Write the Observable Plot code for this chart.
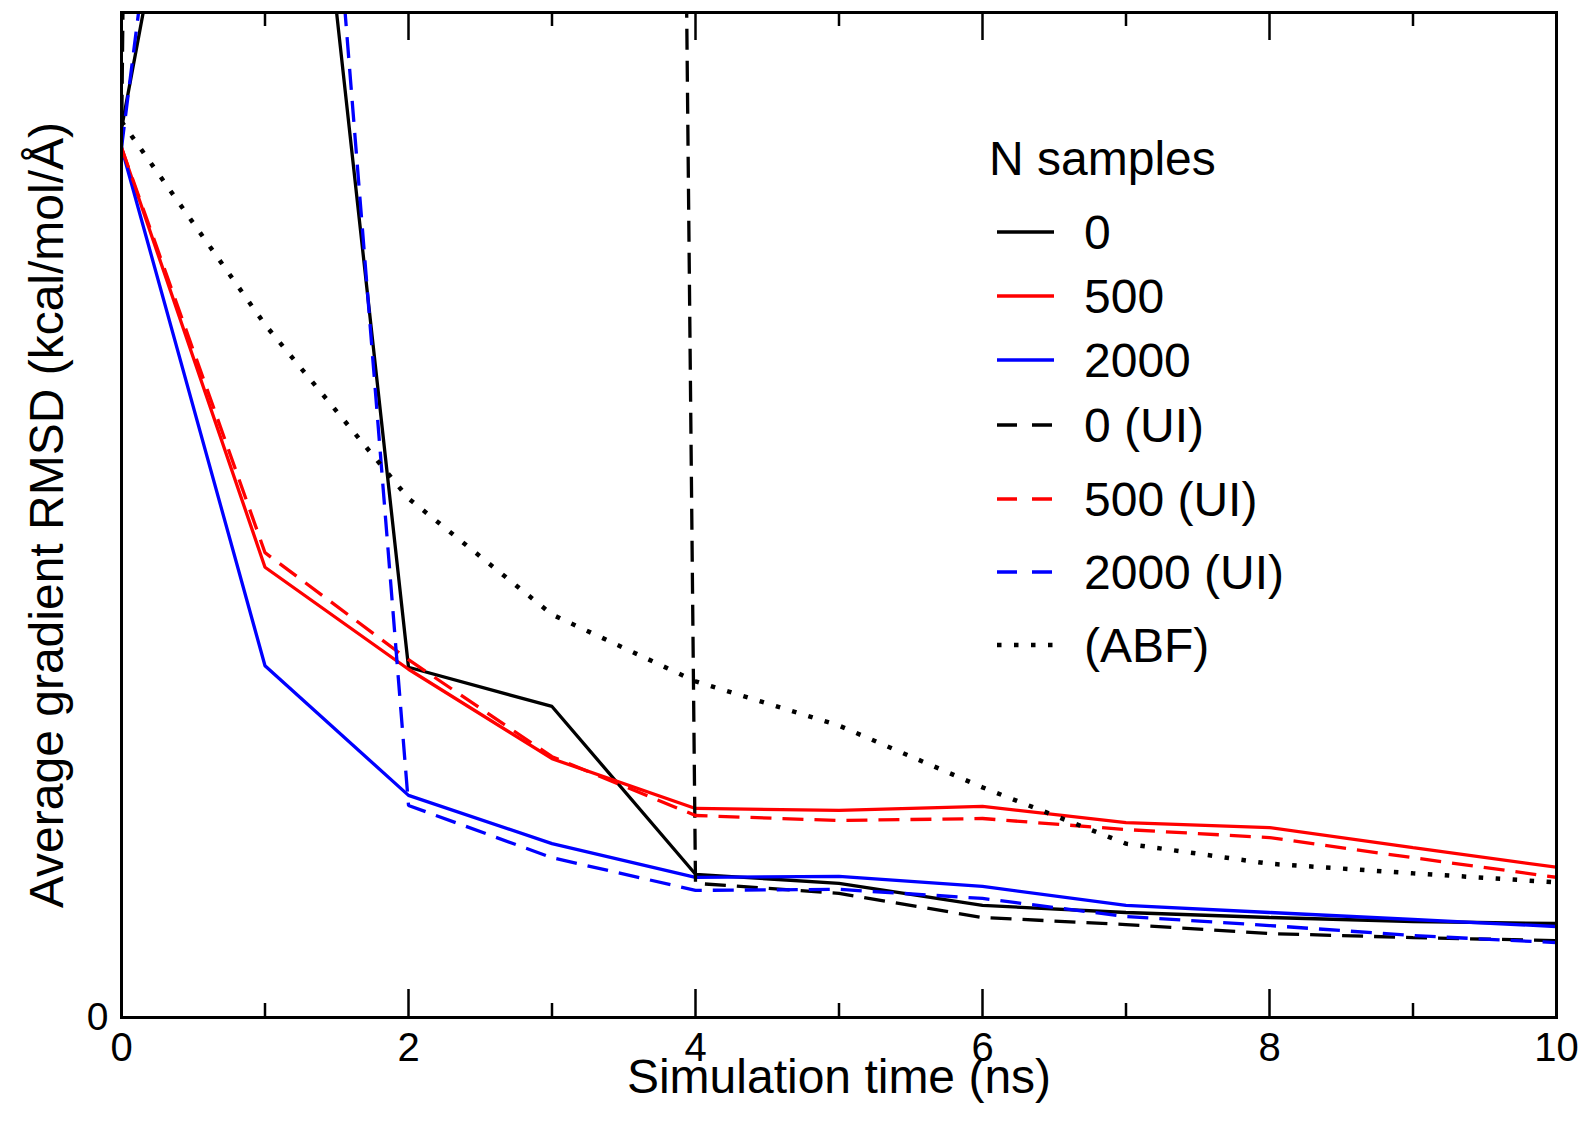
<!DOCTYPE html>
<html>
<head>
<meta charset="utf-8">
<script src="https://cdn.jsdelivr.net/npm/d3@7"></script>
<script src="https://cdn.jsdelivr.net/npm/@observablehq/plot@0.6"></script>
<style>
  html, body { margin: 0; padding: 0; background: #fff; }
  #chart { width: 1585px; height: 1122px; }
</style>
</head>
<body>
<div id="chart"></div>
<script>
// ---- data ----
const time = [0, 1, 2, 3, 4, 5, 6, 7, 8, 9, 10];
const n0      = [1.769, 3.297, 0.697, 0.619, 0.285, 0.267, 0.223, 0.209, 0.199, 0.191, 0.187];
const n500    = [1.731, 0.896, 0.693, 0.515, 0.416, 0.412, 0.420, 0.388, 0.378, 0.338, 0.299];
const n2000   = [1.731, 0.700, 0.442, 0.346, 0.279, 0.281, 0.261, 0.223, 0.209, 0.195, 0.181];
const n0UI    = [1.731, 28.5, 30.0, 28.5, 0.267, 0.247, 0.199, 0.185, 0.167, 0.159, 0.153];
const n500UI  = [1.731, 0.925, 0.712, 0.519, 0.402, 0.392, 0.396, 0.374, 0.358, 0.318, 0.279];
const n2000UI = [1.731, 3.994, 0.422, 0.318, 0.253, 0.255, 0.237, 0.201, 0.183, 0.163, 0.149];
const abf     = [1.783, 1.379, 1.033, 0.802, 0.669, 0.581, 0.458, 0.346, 0.306, 0.287, 0.269];

const seriesNames  = ["0", "500", "2000", "0 (UI)", "500 (UI)", "2000 (UI)", "(ABF)"];
const seriesValues = [n0, n500, n2000, n0UI, n500UI, n2000UI, abf];
const legendTitle = "N samples";
const xMajorTicks = [0, 2, 4, 6, 8, 10];
const xMinorTicks = [1, 3, 5, 7, 9];
const yTicks = [0];
const xLabel = "Simulation time (ns)";
const yLabel = "Average gradient RMSD (kcal/mol/Å)";

// ---- styles ----
const seriesColors = ["#000000", "#ff0000", "#0000ff", "#000000", "#ff0000", "#0000ff", "#000000"];
const seriesDash   = [null, null, null, "21,11", "21,11", "21,11", "4.5,12.5"];
const seriesWidth  = [3.3, 3.3, 3.3, 3.3, 3.3, 3.3, 4.5];
const FONT = "'Liberation Sans', Arial, Helvetica, sans-serif";

const W = 1585, H = 1122;
const mL = 121, mR = 29, mT = 12, mB = 105;
const frameH = H - mT - mB;

const tables = seriesValues.map((vals, i) =>
  time.map((t, j) => ({t, v: vals[j], series: seriesNames[i]}))
);

const lineMarks = tables.map((tbl, i) =>
  Plot.line(tbl, {
    x: "t", y: "v",
    stroke: seriesColors[i],
    strokeWidth: seriesWidth[i],
    strokeDasharray: seriesDash[i],
    strokeLinejoin: "miter",
    strokeLinecap: "butt",
    clip: true
  })
);

const chart = Plot.plot({
  width: W, height: H,
  marginLeft: mL, marginRight: mR, marginTop: mT, marginBottom: mB,
  style: {fontFamily: FONT, background: "#fff", color: "#000"},
  x: {domain: [0, 10]},
  y: {domain: [0, 2]},
  marks: [
    ...lineMarks,
    // inward ticks (bottom and top)
    Plot.ruleX(xMajorTicks, {insetTop: frameH - 28, stroke: "#000", strokeWidth: 2.5}),
    Plot.ruleX(xMinorTicks, {insetTop: frameH - 14, stroke: "#000", strokeWidth: 2.5}),
    Plot.ruleX(xMajorTicks, {insetBottom: frameH - 28, stroke: "#000", strokeWidth: 2.5}),
    Plot.ruleX(xMinorTicks, {insetBottom: frameH - 14, stroke: "#000", strokeWidth: 2.5}),
    Plot.frame({stroke: "#000", strokeWidth: 3}),
    Plot.axisX({ticks: xMajorTicks, tickSize: 0, tickPadding: 15, fontSize: 40, label: null, tickFormat: d => String(d)}),
    Plot.axisY({ticks: yTicks, tickSize: 0, tickPadding: 13, fontSize: 39, label: null, tickFormat: d => String(d)}),
    Plot.text([xLabel], {text: d => d, frameAnchor: "bottom", textAnchor: "middle", lineAnchor: "middle", dy: 60, fontSize: 48, fill: "#000"}),
    Plot.text([yLabel], {text: d => d, frameAnchor: "left", textAnchor: "middle", lineAnchor: "middle", dx: -74, rotate: -90, fontSize: 48, fill: "#000"})
  ]
});

document.getElementById("chart").appendChild(chart);

// ---- legend (inside the plot area) ----
const legendX1 = 997, legendX2 = 1054, legendTextX = 1084;
const legendTitleY = 175;
const legendRowY = [232, 296, 360, 425, 499, 572, 645];
const legendDash = [null, null, null, "20,15", "20,15", "20,15", "4.5,12.5"];
const legendFont = 48;

const svg = d3.select(chart);
const g = svg.append("g").attr("font-family", FONT).attr("fill", "#000").attr("text-anchor", "start");
g.append("text").attr("x", 989).attr("y", legendTitleY).attr("font-size", legendFont).text(legendTitle);
seriesNames.forEach((name, i) => {
  const y = legendRowY[i];
  g.append("line")
    .attr("x1", legendX1).attr("x2", legendX2).attr("y1", y).attr("y2", y)
    .attr("stroke", seriesColors[i]).attr("stroke-width", seriesWidth[i])
    .attr("stroke-dasharray", legendDash[i]);
  g.append("text").attr("x", legendTextX).attr("y", y + 17)
    .attr("font-size", legendFont).text(name);
});
</script>
</body>
</html>
